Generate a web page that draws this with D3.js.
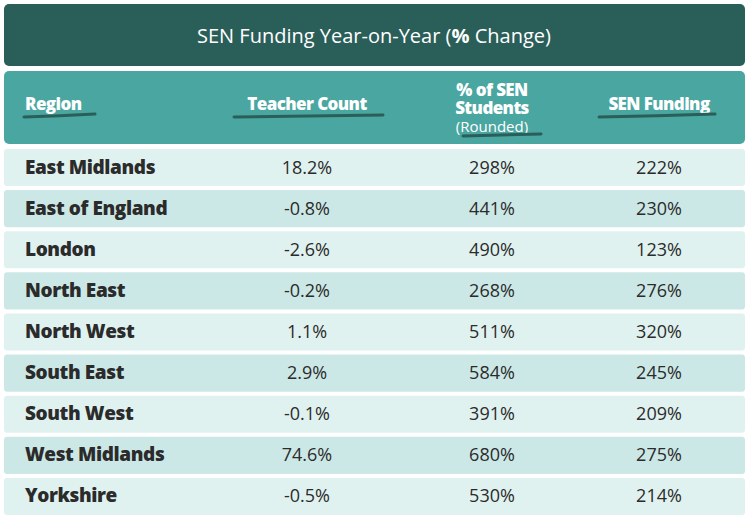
<!DOCTYPE html>
<html><head><meta charset="utf-8">
<script src="https://cdn.jsdelivr.net/npm/d3@7"></script>
<style>body{margin:0;background:#fff}</style>
</head><body><svg id="chart" width="749" height="521"></svg>
<script>
var regions=["East Midlands","East of England","London","North East","North West","South East","South West","West Midlands","Yorkshire"];
var teacherCount=["18.2%","-0.8%","-2.6%","-0.2%","1.1%","2.9%","-0.1%","74.6%","-0.5%"];
var senStudents=["298%","441%","490%","268%","511%","584%","391%","680%","530%"];
var senFunding=["222%","230%","123%","276%","320%","245%","209%","275%","214%"];
var columns=["Region","Teacher Count","% of SEN Students","SEN Funding"];

var svg=d3.select("#chart");
var font="'Open Sans', sans-serif";
var dark="#2a5e59";

// title
svg.append("rect").attr("x",4).attr("y",4).attr("width",741).attr("height",62).attr("rx",5).attr("fill",dark);
var t=svg.append("text").attr("x",374).attr("y",43).attr("text-anchor","middle")
    .attr("fill","#fff").attr("font-family",font).attr("font-size",20);
t.append("tspan").text("SEN Funding Year-on-Year (");
t.append("tspan").attr("font-weight","bold").text("%");
t.append("tspan").text(" Change)");

// header
svg.append("rect").attr("x",4).attr("y",71).attr("width",741).attr("height",73).attr("rx",5).attr("fill","#4aa6a1");
var colX=[25,307,492,659];
function head(x,y,txt,anchor){
    svg.append("text").attr("x",x).attr("y",y).attr("text-anchor",anchor)
        .attr("fill","#fff").attr("font-family",font).attr("font-weight",800)
        .attr("font-size",17).attr("letter-spacing",-0.6).text(txt);
}
head(colX[0],110,columns[0],"start");
head(colX[1],110,columns[1],"middle");
head(colX[2],96,"% of SEN","middle");
head(colX[2],114,"Students","middle");
svg.append("text").attr("x",colX[2]).attr("y",132).attr("text-anchor","middle")
    .attr("fill","#fff").attr("font-family",font).attr("font-size",15).text("(Rounded)");
head(colX[3],110,columns[3],"middle");

// brush underlines
[[24,95,117,114],[234,383,117,115],[463,541,136,134],[599,715,117,114]].forEach(function(u){
    svg.append("path").attr("d","M"+u[0]+","+u[2]+" Q"+((u[0]+u[1])/2)+","+(u[2]-1)+" "+u[1]+","+u[3])
        .attr("stroke",dark).attr("stroke-width",3).attr("stroke-linecap","round").attr("fill","none");
});

// rows
var y=d3.scaleBand().domain(regions).range([149,515]).paddingInner(0.1).paddingOuter(0);
var rows=svg.selectAll("g.row").data(regions).enter().append("g").attr("class","row")
    .attr("transform",function(d){return "translate(0,"+y(d)+")";});
rows.append("rect").attr("x",4).attr("width",741).attr("height",y.bandwidth()).attr("rx",3)
    .attr("fill",function(d,i){return i%2?"#cce8e6":"#e0f2f0";});
var mid=y.bandwidth()/2+6;
rows.append("text").attr("x",colX[0]).attr("y",mid).attr("fill","#2b2b2b")
    .attr("font-family",font).attr("font-weight",800).attr("font-size",19).attr("letter-spacing",-0.4)
    .text(function(d){return d;});
[teacherCount,senStudents,senFunding].forEach(function(arr,c){
    rows.append("text").attr("x",colX[c+1]).attr("y",mid).attr("text-anchor","middle")
        .attr("fill","#2b2b2b").attr("font-family",font).attr("font-size",18)
        .text(function(d,i){return arr[i];});
});
</script></body></html>
